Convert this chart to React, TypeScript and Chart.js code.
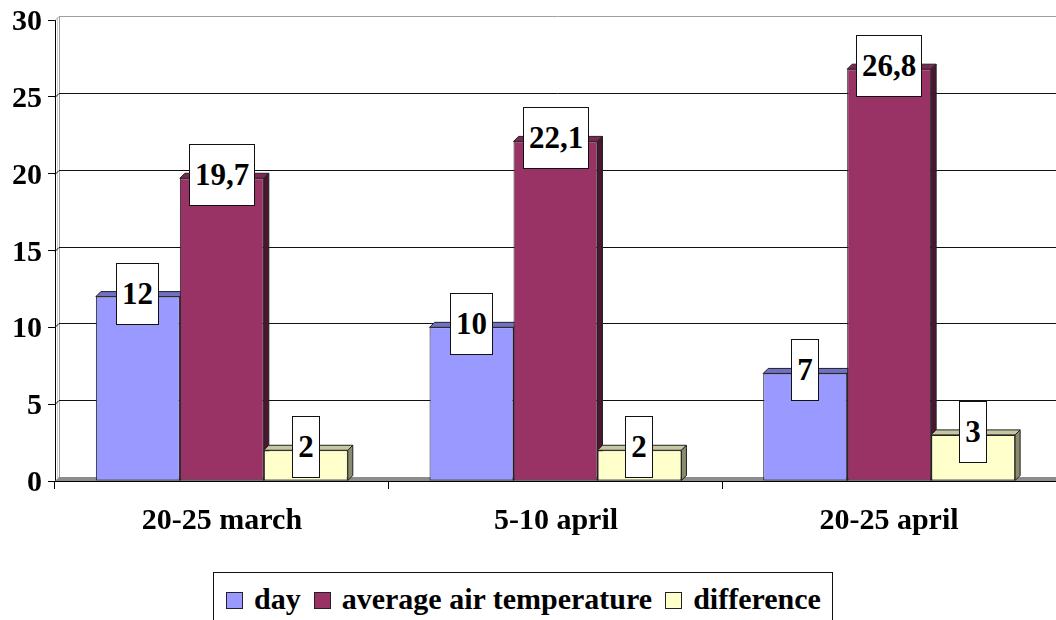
import React, { useEffect, useRef, useState } from 'react';
import { Chart, registerables } from 'chart.js';

Chart.register(...registerables);

// ---- data ----
const categories = ['20-25 march', '5-10 april', '20-25 april'];
const seriesNames = ['day', 'average air temperature', 'difference'];
const dayValues = [12, 10, 7];
const avgTempValues = [19.7, 22.1, 26.8];
const differenceValues = [2, 2, 3];
const yMin = 0;
const yMax = 30;
const yStep = 5;

// ---- styles ----
const FONT = "'Liberation Serif', 'Times New Roman', serif";
const frontColors = ['#9999FF', '#993366', '#FFFFCC'];
const topColors = ['#7070c4', '#7d2953', '#c6c6a2'];
const sideColors = ['#4f4f9a', '#4a1630', '#8a8a6c'];

const depthPlugin = {
  id: 'depth3d',
  beforeDatasetsDraw(chart: any) {
    const { ctx, chartArea } = chart;
    const { left, right, top, bottom } = chartArea;
    const ys = chart.scales.y;
    const w = 4;
    ctx.save();
    // floor
    ctx.fillStyle = '#8c8c8c';
    ctx.beginPath();
    ctx.moveTo(left, bottom);
    ctx.lineTo(left + w, bottom - w);
    ctx.lineTo(right, bottom - w);
    ctx.lineTo(right, bottom);
    ctx.closePath();
    ctx.fill();
    // left wall
    ctx.strokeStyle = '#a0a0a0';
    ctx.lineWidth = 1;
    ctx.beginPath();
    ctx.moveTo(left + w + 0.5, top - w);
    ctx.lineTo(left + w + 0.5, bottom - w);
    ctx.stroke();
    ctx.strokeStyle = '#d0d0d0';
    ctx.beginPath();
    ctx.moveTo(left + 2.5, top - w + 2);
    ctx.lineTo(left + 2.5, bottom - 2);
    ctx.stroke();
    // back-wall grid lines
    ys.ticks.forEach((t: any) => {
      if (t.value === yMin) return;
      const py = Math.round(ys.getPixelForValue(t.value));
      ctx.strokeStyle = t.value === yMax ? '#a0a0a0' : '#111';
      ctx.lineWidth = 1;
      ctx.beginPath();
      ctx.moveTo(left, py + 0.5);
      ctx.lineTo(left + w, py - w + 0.5);
      ctx.lineTo(right, py - w + 0.5);
      ctx.stroke();
    });
    // bar depth faces
    const d = 5;
    chart.data.datasets.forEach((_ds: any, i: number) => {
      const meta = chart.getDatasetMeta(i);
      meta.data.forEach((bar: any) => {
        const { x, y, base, width } = bar.getProps(['x', 'y', 'base', 'width'], true);
        const l = x - width / 2;
        const r = x + width / 2;
        ctx.strokeStyle = '#222';
        ctx.lineWidth = 1;
        ctx.fillStyle = topColors[i];
        ctx.beginPath();
        ctx.moveTo(l, y);
        ctx.lineTo(l + d, y - d);
        ctx.lineTo(r + d, y - d);
        ctx.lineTo(r, y);
        ctx.closePath();
        ctx.fill();
        ctx.stroke();
        ctx.fillStyle = sideColors[i];
        ctx.beginPath();
        ctx.moveTo(r, y);
        ctx.lineTo(r + d, y - d);
        ctx.lineTo(r + d, base - d);
        ctx.lineTo(r, base);
        ctx.closePath();
        ctx.fill();
        ctx.stroke();
      });
    });
    ctx.restore();
  },
};

type Overlay = {
  yLabels: { text: string; y: number }[];
  yRight: number;
  xLabels: { text: string; x: number }[];
  bottom: number;
  boxes: { text: string; left: number; top: number; width: number }[];
};

export default function App() {
  const canvasRef = useRef<HTMLCanvasElement | null>(null);
  const [overlay, setOverlay] = useState<Overlay | null>(null);

  useEffect(() => {
    document.body.style.margin = '0';
    const canvas = canvasRef.current;
    if (!canvas) return;
    const chart = new Chart(canvas, {
      type: 'bar',
      data: {
        labels: categories,
        datasets: [dayValues, avgTempValues, differenceValues].map((vals, i) => ({
          label: seriesNames[i],
          data: vals,
          backgroundColor: frontColors[i],
          borderColor: '#222',
          borderWidth: 1,
          borderSkipped: false,
          categoryPercentage: 0.755,
          barPercentage: 1,
        })),
      },
      options: {
        responsive: false,
        animation: false,
        devicePixelRatio: 1,
        layout: { padding: { top: 20, left: 0, right: -4, bottom: 48 } },
        plugins: {
          legend: { display: false },
          tooltip: { enabled: false },
        },
        scales: {
          x: {
            grid: { drawOnChartArea: false, drawTicks: true, tickLength: 8, color: '#000', offset: true },
            border: { display: true, color: '#000', width: 1 },
            ticks: { display: false },
            afterFit: (s: any) => {
              s.height = 91;
            },
          },
          y: {
            min: yMin,
            max: yMax,
            ticks: { stepSize: yStep, display: false },
            grid: { drawOnChartArea: false, drawTicks: true, tickLength: 7, color: '#000' },
            border: { display: true, color: '#000', width: 1 },
            afterFit: (s: any) => {
              s.width = 55;
            },
          },
        },
      },
      plugins: [depthPlugin],
    });

    // text overlay placed from the chart's own scales and bar elements
    const ys: any = chart.scales.y;
    const xs: any = chart.scales.x;
    const mctx = document.createElement('canvas').getContext('2d')!;
    mctx.font = `bold 31px ${FONT}`;
    const boxes: Overlay['boxes'] = [];
    chart.data.datasets.forEach((ds: any, i: number) => {
      chart.getDatasetMeta(i).data.forEach((bar: any, j: number) => {
        const text = String(ds.data[j]).replace('.', ',');
        const bw = Math.round(mctx.measureText(text).width + 12);
        boxes.push({
          text,
          width: bw,
          left: Math.round(bar.x - bw / 2),
          top: Math.round(bar.y - 3 - 31),
        });
      });
    });
    setOverlay({
      yLabels: ys.ticks.map((t: any) => ({ text: String(t.value), y: ys.getPixelForValue(t.value) })),
      yRight: ys.right - 7 - 6,
      xLabels: categories.map((c, i) => ({ text: c, x: xs.getPixelForValue(i) })),
      bottom: chart.chartArea.bottom,
      boxes,
    });
    return () => chart.destroy();
  }, []);

  const textBase: React.CSSProperties = {
    position: 'absolute',
    fontFamily: FONT,
    fontWeight: 'bold',
    color: '#000',
    whiteSpace: 'nowrap',
  };

  return (
    <div style={{ position: 'relative', width: 1056, height: 620, overflow: 'hidden', background: '#fff' }}>
      <canvas ref={canvasRef} width={1056} height={620} style={{ display: 'block' }} />
      {overlay && (
        <>
          {overlay.yLabels.map((l) => (
            <div
              key={'y' + l.text}
              style={{
                ...textBase,
                left: 0,
                width: overlay.yRight,
                textAlign: 'right',
                top: Math.round(l.y) - 15,
                height: 30,
                lineHeight: '30px',
                fontSize: 30,
              }}
            >
              {l.text}
            </div>
          ))}
          {overlay.xLabels.map((l) => (
            <div
              key={'x' + l.text}
              style={{
                ...textBase,
                left: Math.round(l.x) - 160,
                width: 320,
                textAlign: 'center',
                top: Math.round(overlay.bottom) + 23,
                height: 30,
                lineHeight: '30px',
                fontSize: 30,
              }}
            >
              {l.text}
            </div>
          ))}
          {overlay.boxes.map((b, k) => (
            <div
              key={'b' + k}
              style={{
                ...textBase,
                left: b.left,
                top: b.top,
                width: b.width,
                height: 62,
                boxSizing: 'border-box',
                border: '1px solid #111',
                background: '#fff',
                textAlign: 'center',
                lineHeight: '59px',
                fontSize: 31,
              }}
            >
              {b.text}
            </div>
          ))}
          <div
            style={{
              position: 'absolute',
              left: 213,
              top: Math.round(overlay.bottom) + 91,
              height: 60,
              boxSizing: 'border-box',
              border: '1px solid #111',
              borderBottom: 'none',
              padding: '0 11px 0 12px',
              display: 'flex',
              alignItems: 'center',
              background: '#fff',
            }}
          >
            {seriesNames.map((name, i) => (
              <div key={name} style={{ display: 'flex', alignItems: 'center', marginRight: i < seriesNames.length - 1 ? 13 : 0, marginTop: -4 }}>
                <span
                  style={{
                    display: 'inline-block',
                    width: 17,
                    height: 17,
                    boxSizing: 'border-box',
                    border: '1px solid #222',
                    background: frontColors[i],
                    marginRight: 11,
                  }}
                />
                <span
                  style={{
                    fontFamily: FONT,
                    fontWeight: 'bold',
                    fontSize: 30,
                    lineHeight: '30px',
                    color: '#000',
                    whiteSpace: 'nowrap',
                    position: 'relative',
                    top: -2,
                  }}
                >
                  {name}
                </span>
              </div>
            ))}
          </div>
        </>
      )}
    </div>
  );
}
